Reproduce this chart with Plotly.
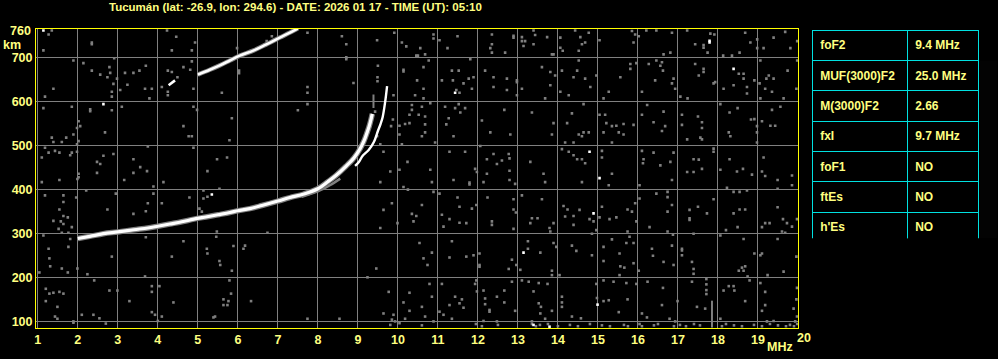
import plotly.graph_objects as go

# ---------------- data ----------------
title_text = "Tucumán (lat: -26.9, lon: 294.6) - DATE: 2026 01 17 - TIME (UT): 05:10"
x_ticks = list(range(1, 20))
y_ticks = [100, 200, 300, 400, 500, 600, 700]

# ordinary (O) F2 trace, MHz / km
o_f = [2.0, 2.3, 2.64, 3.0, 3.4, 3.75, 4.0, 4.3, 4.6, 4.9, 5.2, 5.5, 5.8, 6.0, 6.3, 6.6,
       7.0, 7.3, 7.65, 8.0, 8.25, 8.45, 8.7, 8.9, 9.05, 9.15, 9.22, 9.28, 9.33, 9.36]
o_h = [289, 294, 300, 304, 309, 313, 317, 322, 327, 333, 338, 343, 348, 352, 357, 364,
       374, 382, 390, 402, 418, 432, 453, 472, 492, 510, 527, 543, 560, 572]

# extraordinary (X) trace
x_low_f = [7.6, 8.0, 8.3, 8.56]
x_low_h = [384, 396, 410, 425]
x_f = [8.93, 9.02, 9.12, 9.27, 9.4, 9.5, 9.57, 9.62, 9.68, 9.73]
x_h = [454, 462, 477, 490, 508, 533, 550, 565, 598, 635]

# second hop of F2
hop2a_f = [4.27, 4.43]
hop2a_h = [637, 648]
hop2_f = [5.0, 5.3, 5.55, 5.8, 6.05, 6.4, 6.7, 7.05, 7.4, 7.5]
hop2_h = [661, 672, 682, 693, 704, 716, 729, 745, 761, 766]

# gray echo fragments near foF2 and an interference bar
echo_f = [9.39, 9.39]
echo_h = [585, 616]
bar_f = [17.85, 17.85]
bar_h = [87, 148]

noise_points = [
    (1.35, 761), (1.27, 752), (1.14, 716), (2.35, 734), (2.35, 730), (1.89, 693), (2.14, 687), (2.35, 670),
    (2.56, 661), (2.79, 678), (2.81, 665), (2.74, 655), (2.91, 698), (2.98, 652), (2.89, 640), (2.85, 622),
    (2.85, 611), (3.18, 665), (3.39, 665), (3.54, 670), (3.7, 681), (3.24, 638), (3.06, 626), (3.68, 629),
    (3.85, 629), (3.79, 607), (1.39, 629), (1.18, 611), (1.14, 585), (1.85, 588), (2.31, 582), (2.31, 578),
    (2.85, 580), (3.1, 588), (2.02, 555), (2.06, 544), (1.98, 540), (1.89, 525), (2.02, 510), (1.98, 503),
    (2.68, 530), (1.35, 518), (1.39, 508), (1.6, 508), (1.71, 518), (1.18, 495), (1.27, 484), (1.43, 488),
    (1.54, 484), (1.81, 478), (1.85, 484), (1.98, 486), (1.1, 473), (2.48, 463), (2.56, 458), (2.64, 477),
    (2.89, 481), (2.02, 436), (2.02, 428), (2.48, 438), (3.39, 469), (3.39, 438), (3.56, 451), (3.73, 442),
    (3.75, 498), (4.23, 761), (4.46, 747), (4.35, 716), (4.85, 716), (4.93, 734), (4.85, 691), (4.64, 678),
    (4.81, 672), (4.25, 670), (4.35, 667), (4.49, 655), (4.25, 622), (4.25, 614), (4.1, 633), (4.89, 629),
    (4.89, 588), (4.98, 581), (4.64, 544), (4.77, 521), (4.85, 521), (4.89, 495), (5.6, 620), (5.85, 562),
    (5.79, 512), (5.48, 469), (5.73, 473), (5.24, 442), (6.03, 670), (6.03, 664), (7.74, 756), (7.74, 633),
    (7.74, 620), (7.74, 594), (7.5, 580), (8.6, 748), (8.71, 730), (8.71, 700), (8.71, 696), (8.89, 642),
    (9.48, 739), (9.91, 756), (10.1, 734), (10.21, 725), (10.46, 704), (10.14, 672), (10.14, 668), (9.5, 681),
    (9.49, 655), (9.49, 646), (9.89, 614), (10.48, 648), (10.43, 614), (10.35, 592), (10.35, 581), (10.29, 570),
    (10.18, 549), (10.29, 551), (10.04, 545), (9.875, 559), (9.83, 544), (10.04, 525), (10.1, 503), (9.64, 486),
    (10.24, 463), (10.04, 445), (9.81, 441), (9.48, 521), (9.56, 503), (9.43, 577), (5.98, 721), (6.72, 737),
    (6.85, 748), (6.9, 740),
    (10.89, 752), (10.89, 743), (11.04, 739), (11.24, 721), (11.49, 748), (10.56, 721), (10.68, 707), (10.5, 704),
    (12.35, 752), (12.35, 730), (12.31, 721), (12.35, 711), (12.68, 711), (12.89, 745), (12.89, 749), (13.1, 746),
    (13.1, 737), (13.18, 737), (13.39, 761), (13.43, 751), (13.39, 730), (13.14, 726), (13.73, 746), (13.89, 707),
    (13.85, 707), (14.06, 745), (14.06, 722), (14.12, 715), (14.43, 761), (14.56, 746), (14.6, 730), (14.68, 734),
    (14.52, 715), (14.77, 756), (15.04, 739), (15.85, 760), (15.93, 752), (16.02, 748), (15.89, 734), (16.21, 761),
    (16.46, 761), (16.85, 756), (16.64, 707), (16.81, 711), (17.23, 761), (17.43, 730), (17.64, 722), (17.64, 728),
    (17.74, 711), (17.81, 754), (17.91, 752), (18.13, 704), (18.35, 704), (18.54, 711), (18.68, 756), (18.81, 734),
    (18.98, 741), (18.98, 721), (19.14, 721), (19.39, 745), (19.68, 758), (19.98, 737), (19.81, 721),
    (10.64, 678), (10.77, 693), (10.64, 629), (10.64, 607), (11.1, 648), (11.35, 670), (11.375, 648), (11.46, 626),
    (11.54, 620), (11.64, 641), (11.77, 652), (11.85, 629), (11.89, 655), (11.52, 670), (11.81, 696), (12.18, 670),
    (12.39, 655), (12.39, 633), (12.725, 652), (12.725, 626), (12.975, 648), (12.975, 644), (12.975, 614), (13.1, 629),
    (13.6, 678), (13.81, 667), (13.81, 637), (13.93, 659), (13.68, 607), (14.1, 670), (14.06, 622), (14.27, 614),
    (14.39, 655), (14.48, 670), (14.52, 693), (14.68, 652), (14.81, 633), (14.96, 659), (15.14, 607), (15.27, 622),
    (15.56, 655), (15.81, 685), (15.81, 674), (15.96, 687), (16.27, 685), (16.46, 693), (16.56, 681), (16.6, 689),
    (16.625, 670), (16.43, 648), (16.1, 622), (16.89, 652), (16.85, 641), (16.93, 629), (17.06, 611), (17.24, 607),
    (17.43, 685), (17.64, 674), (17.64, 667), (17.52, 659), (17.89, 641), (17.93, 644), (18.14, 629), (18.39, 637),
    (18.52, 663), (18.64, 663), (18.64, 652), (18.725, 633), (18.725, 618), (18.91, 648), (19.06, 693), (19.04, 641),
    (19.21, 652), (19.27, 659), (19.39, 652), (19.18, 629), (19.35, 622), (19.64, 607), (19.74, 670), (19.98, 693),
    (19.06, 607), (19.96, 629),
    (10.52, 570), (10.68, 566), (10.6, 588), (10.81, 596), (11.18, 588), (11.43, 585), (11.52, 594), (11.68, 585),
    (11.56, 575), (11.27, 562), (11.21, 548), (10.68, 548), (10.68, 530), (10.6, 521), (11.39, 521), (10.93, 507),
    (12.1, 557), (12.31, 530), (12.66, 581), (12.81, 525), (13.35, 575), (13.89, 551), (13.85, 525), (14.23, 551),
    (14.35, 573), (14.64, 594), (14.52, 525), (14.6, 521), (14.64, 530), (14.77, 530), (14.39, 507), (14.18, 507),
    (15.04, 570), (15.18, 570), (15.21, 551), (15.35, 544), (15.46, 545), (15.64, 549), (15.89, 547), (15.14, 530),
    (15.52, 530), (15.64, 525), (15.35, 507), (16.1, 570), (16.23, 592), (16.39, 553), (16.64, 577), (16.68, 544),
    (16.6, 533), (17.1, 570), (17.1, 547), (17.23, 514), (17.5, 566), (17.6, 553), (17.6, 540), (17.56, 518),
    (17.6, 514), (18.06, 594), (18.29, 575), (18.49, 585), (18.825, 559), (18.91, 560), (18.975, 544), (18.975, 530),
    (19.1, 555), (19.31, 545), (19.43, 545), (19.35, 581), (19.56, 588), (18.27, 530), (18.31, 521), (18.975, 507),
    (19.14, 473),
    (10.81, 445), (11.29, 486), (11.68, 486), (12.06, 499), (12.225, 469), (12.39, 481), (12.475, 458), (12.6, 466),
    (12.77, 481), (12.79, 471), (12.79, 443), (11.93, 447), (11.975, 440), (12.225, 436), (13.31, 463), (13.64, 436),
    (14.1, 492), (14.27, 486), (14.39, 478), (14.48, 469), (14.6, 469), (14.68, 460), (15.1, 488), (15.1, 473),
    (15.35, 436), (16.1, 488), (16.14, 469), (16.125, 460), (16.39, 484), (16.56, 455), (16.81, 463), (16.89, 484),
    (17.23, 440), (17.39, 469), (17.52, 468), (17.39, 440), (17.6, 447), (17.89, 493), (17.89, 486), (18.06, 445),
    (18.29, 469), (18.475, 441), (18.625, 447), (18.85, 434), (19.1, 441), (19.18, 431), (19.85, 432),
    (1.1, 417), (1.54, 422), (1.99, 424), (2.21, 398), (3.16, 422), (2.95, 391), (3.89, 407), (4.14, 417),
    (3.89, 391), (1.18, 387), (1.64, 387), (1.64, 372), (1.96, 382), (1.54, 355), (1.64, 340), (1.75, 337),
    (1.39, 329), (1.575, 328), (1.64, 322), (1.85, 315), (1.52, 311), (1.6, 302), (1.765, 302), (1.14, 296),
    (1.81, 288), (2.74, 355), (3.39, 345), (3.75, 369), (3.7, 351), (4.1, 369), (3.7, 292), (4.64, 283),
    (5.14, 398), (5.14, 380), (5.24, 384), (5.54, 402), (4.79, 382), (5.04, 357), (5.1, 350), (5.475, 305),
    (5.46, 293), (5.89, 272), (6.18, 273), (6.14, 266), (5.225, 266), (5.24, 255), (5.54, 238), (5.56, 229),
    (5.85, 216), (5.79, 194), (5.83, 164), (5.64, 151), (5.765, 147), (5.64, 138), (5.74, 138), (6.33, 147),
    (6.74, 302), (1.27, 266), (1.765, 270), (1.29, 244), (1.31, 226), (1.6, 221), (1.04, 212), (1.75, 212),
    (1.99, 221), (2.24, 208), (2.85, 248), (2.41, 194), (2.79, 171), (2.99, 171), (1.2, 175), (1.29, 164),
    (1.39, 166), (1.54, 168), (1.64, 164), (1.2, 147), (1.49, 134), (1.43, 112), (1.49, 107), (1.89, 101),
    (2.1, 116), (2.39, 116), (2.54, 108), (3.29, 147), (3.68, 203), (3.85, 181), (3.85, 168), (4.04, 181),
    (4.39, 144), (3.85, 122), (3.93, 116), (4.1, 112), (4.0, 102), (4.35, 248), (5.39, 110), (5.43, 112),
    (7.74, 107), (8.54, 107), (9.64, 354), (9.56, 313), (9.85, 369), (9.99, 324), (10.14, 406), (10.25, 400),
    (10.35, 345), (10.46, 340), (10.39, 328), (9.56, 417), (9.46, 221), (9.24, 201), (9.77, 168), (10.29, 166),
    (10.14, 144), (10.29, 125), (9.64, 119), (9.89, 116), (9.85, 105), (9.93, 101), (10.18, 107), (9.81, 93),
    (10.04, 97), (1.89, 98), (2.7, 96),
    (10.85, 417), (11.39, 422), (11.79, 412), (11.79, 416), (12.14, 417), (12.79, 422), (12.93, 413), (13.68, 417),
    (14.6, 417), (15.27, 410), (16.04, 410), (16.85, 422), (19.49, 422), (19.49, 402), (19.85, 410), (18.225, 404),
    (18.725, 398), (10.89, 395), (11.04, 391), (10.6, 365), (11.1, 343), (11.29, 333), (11.54, 325), (11.71, 324),
    (11.14, 316), (11.54, 361), (11.85, 357), (11.96, 365), (11.49, 382), (12.24, 382), (12.35, 328), (12.35, 320),
    (12.89, 378), (12.89, 355), (12.95, 348), (12.89, 311), (13.1, 387), (13.6, 378), (13.35, 335), (13.49, 335),
    (13.31, 324), (13.79, 313), (13.81, 305), (13.89, 324), (14.14, 363), (14.24, 355), (14.39, 340), (14.18, 339),
    (14.39, 320), (14.54, 354), (14.79, 333), (14.89, 328), (15.1, 361), (15.04, 337), (15.29, 333), (15.46, 337),
    (14.96, 308), (14.85, 300), (15.74, 355), (15.85, 350), (15.93, 369), (16.04, 380), (15.96, 328), (15.74, 305),
    (16.29, 315), (16.46, 391), (16.74, 395), (16.74, 383), (16.85, 365), (16.74, 350), (16.74, 305), (16.875, 298),
    (17.29, 354), (17.29, 335), (17.29, 331), (17.5, 361), (17.89, 378), (17.725, 346), (17.39, 300), (18.39, 395),
    (18.54, 395), (18.39, 346), (18.54, 355), (18.68, 355), (18.49, 315), (18.2, 308), (19.1, 315), (19.18, 324),
    (19.29, 324), (19.49, 360), (19.625, 333), (19.725, 324), (19.85, 316), (19.975, 333), (19.6, 305), (19.68, 302),
    (10.54, 279), (10.64, 244), (10.74, 229), (10.85, 257), (11.35, 283), (11.29, 246), (11.71, 248), (11.89, 251),
    (12.04, 255), (12.04, 229), (12.04, 225), (12.85, 241), (12.96, 229), (12.77, 220), (13.06, 218), (13.25, 266),
    (13.25, 283), (13.56, 257), (13.89, 279), (13.96, 270), (13.85, 216), (13.85, 206), (14.04, 206), (14.35, 273),
    (14.46, 261), (14.85, 251), (15.14, 270), (15.14, 238), (15.35, 287), (15.54, 255), (15.56, 226), (15.66, 223),
    (15.54, 206), (15.71, 279), (15.79, 293), (15.89, 279), (15.89, 233), (16.02, 216), (16.35, 266), (16.375, 250),
    (16.64, 236), (16.89, 229), (16.85, 273), (17.1, 266), (17.1, 262), (17.1, 251), (17.35, 236), (17.39, 220),
    (17.39, 209), (18.06, 296), (18.64, 288), (18.6, 223), (18.68, 226), (18.52, 216), (18.64, 216), (18.74, 203),
    (18.91, 255), (19.06, 251), (19.1, 255), (19.24, 206), (19.64, 214), (19.96, 248), (19.49, 288),
    (10.79, 186), (11.1, 186), (10.85, 157), (10.6, 134), (10.68, 112), (11.04, 123), (11.14, 116), (10.89, 101),
    (11.29, 138), (11.43, 157), (11.6, 151), (11.54, 142), (11.64, 132), (11.35, 107), (11.96, 194), (11.93, 186),
    (11.975, 169), (12.14, 171), (12.18, 153), (12.18, 140), (12.29, 123), (12.29, 127), (12.475, 157), (12.66, 171),
    (12.66, 144), (12.475, 101), (12.14, 102), (12.85, 191), (12.93, 125), (13.1, 194), (13.27, 191), (13.52, 188),
    (13.74, 186), (13.39, 169), (13.52, 142), (13.575, 134), (13.85, 125), (13.56, 119), (13.68, 107), (13.35, 101),
    (14.1, 157), (14.1, 144), (14.1, 134), (14.35, 112), (14.575, 108), (14.975, 154), (14.96, 186), (15.14, 194),
    (15.39, 191), (15.71, 188), (15.96, 186), (15.14, 147), (15.27, 149), (15.74, 151), (15.52, 122), (16.1, 119),
    (16.225, 110), (16.24, 191), (16.625, 177), (16.6, 138), (16.79, 107), (16.99, 147), (16.93, 101), (17.475, 134),
    (17.35, 191), (17.71, 197), (17.71, 185), (17.71, 172), (17.71, 163), (17.68, 130), (18.06, 107), (18.14, 171),
    (18.27, 181), (18.39, 181), (18.41, 171), (18.79, 194), (18.68, 147), (19.06, 188), (19.18, 168), (19.18, 138),
    (19.1, 125), (19.225, 101), (19.39, 102), (19.975, 177), (19.96, 151), (19.89, 130), (19.93, 101), (19.975, 112),
    (10.6, 92), (11.95, 95), (12.1, 90), (12.5, 93), (13.35, 95), (13.45, 90), (13.55, 93), (13.75, 95),
    (14.0, 90), (14.3, 93), (14.5, 90), (14.8, 95), (15.1, 92), (15.3, 90), (15.65, 93), (15.75, 90),
    (16.04, 95), (16.1, 90), (16.4, 92), (16.5, 95), (16.9, 90), (17.05, 93), (17.2, 90), (17.4, 95),
    (17.55, 92), (18.1, 90), (18.2, 95), (18.4, 92), (18.6, 90), (18.9, 93), (19.1, 90), (19.3, 95),
    (19.5, 92), (19.7, 90), (19.8, 93), (19.9, 90), (19.98, 95),
]
white_points = [
    (1.14, 761), (2.64, 594), (11.43, 620), (17.79, 734), (17.79, 738), (18.39, 674), (14.79, 486),
    (14.89, 346), (13.14, 257), (14.99, 139), (13.39, 93), (13.79, 89), (5.35, 389), (15.04, 426),
]

table_params = ["foF2", "MUF(3000)F2", "M(3000)F2", "fxI", "foF1", "ftEs", "h'Es"]
table_values = ["9.4 MHz", "25.0 MHz", "2.66", "9.7 MHz", "NO", "NO", "NO"]

# ---------------- styling ----------------
TXT = "#ffff80"
BORDER = "#ffff00"
GRID = "#808080"
NOISE = "#7f7f7f"
CYAN = "#00e0e0"
FONT = "Liberation Sans, Arial, sans-serif"

W, H = 998, 359
ML, MR, MT, MB = 35, 19, 29, 26
PW = W - ML - MR
PH = H - MT - MB
x_dom_end = (798 - ML) / PW
tab_x0 = (812 - ML) / PW
tab_y1 = (H - MB - 30.3) / PH
tab_y0 = (H - MB - 242.7) / PH

fig = go.Figure()

nf = [p[0] for p in noise_points]
nh = [p[1] for p in noise_points]
fig.add_trace(go.Scatter(x=nf, y=nh, mode="markers",
                         marker=dict(symbol="square", size=2.6, color=NOISE, line=dict(width=0)),
                         hoverinfo="skip", showlegend=False))
fig.add_trace(go.Scatter(x=bar_f, y=bar_h, mode="lines", line=dict(color=NOISE, width=2),
                         hoverinfo="skip", showlegend=False))
fig.add_trace(go.Scatter(x=echo_f, y=echo_h, mode="lines", line=dict(color=NOISE, width=2),
                         hoverinfo="skip", showlegend=False))

# gray fringes
for fx, hy, w in [(o_f, o_h, 5.5), (hop2_f, hop2_h, 4.5), (x_low_f, x_low_h, 2.5)]:
    fig.add_trace(go.Scatter(x=fx, y=hy, mode="lines", line=dict(color=NOISE, width=w, shape="spline"),
                             hoverinfo="skip", showlegend=False))

# white cores
for fx, hy, w in [(o_f, o_h, 3.2), (hop2_f, hop2_h, 2.6), (hop2a_f, hop2a_h, 2.6), (x_f, x_h, 2.4)]:
    fig.add_trace(go.Scatter(x=fx, y=hy, mode="lines", line=dict(color="#ffffff", width=w, shape="spline"),
                             hoverinfo="skip", showlegend=False))

wf = [p[0] for p in white_points]
wh = [p[1] for p in white_points]
fig.add_trace(go.Scatter(x=wf, y=wh, mode="markers",
                         marker=dict(symbol="square", size=2.6, color="#ffffff", line=dict(width=0)),
                         hoverinfo="skip", showlegend=False))

cell_font = dict(family=FONT, size=12, color=TXT, weight="bold")
fig.add_trace(go.Table(
    domain=dict(x=[tab_x0, 1.0], y=[tab_y0, tab_y1]),
    columnwidth=[95, 71],
    header=dict(values=[f"<b>{table_params[0]}</b>", f"<b>{table_values[0]}</b>"],
                fill_color="black", line=dict(color=CYAN, width=1), font=cell_font,
                align="left", height=30.33),
    cells=dict(values=[[f"<b>{p}</b>" for p in table_params[1:]],
                       [f"<b>{v}</b>" for v in table_values[1:]]],
               fill_color="black", line=dict(color=CYAN, width=1), font=cell_font,
               align="left", height=30.33),
))

tick_font = dict(family=FONT, size=12.5, color=TXT, weight="bold")
fig.update_layout(
    width=W, height=H,
    margin=dict(l=ML, r=MR, t=MT, b=MB, pad=0),
    paper_bgcolor="black", plot_bgcolor="black",
    showlegend=False,
    xaxis=dict(domain=[0, x_dom_end], range=[0.955, 20.005], tickvals=x_ticks,
               ticktext=[str(v) for v in x_ticks], tickfont=tick_font, ticks="",
               showgrid=True, gridcolor=GRID, gridwidth=1, zeroline=False,
               showline=True, linecolor=BORDER, linewidth=1, mirror=True, fixedrange=True),
    yaxis=dict(range=[86, 764.5], tickvals=y_ticks, ticktext=[str(v) for v in y_ticks],
               tickfont=tick_font, ticks="", showgrid=True, gridcolor=GRID, gridwidth=1,
               zeroline=False, showline=True, linecolor=BORDER, linewidth=1, mirror=True,
               fixedrange=True),
    annotations=[
        dict(text=f"<b>{title_text}</b>", xref="paper", yref="paper", x=(295 - ML) / PW,
             y=1 + 22 / PH, xanchor="center", yanchor="middle", showarrow=False,
             font=dict(family=FONT, size=11.5, color=TXT)),
        dict(text="<b>760</b>", xref="paper", yref="y", x=0, y=760, xanchor="right",
             yanchor="middle", xshift=-3, showarrow=False, font=tick_font),
        dict(text="<b>km</b>", xref="paper", yref="y", x=0, y=729, xanchor="right",
             yanchor="middle", xshift=-13, showarrow=False, font=tick_font),
        dict(text="<b>MHz</b>", xref="x", yref="paper", x=19.54, y=0, xanchor="center",
             yanchor="middle", yshift=-19, showarrow=False, font=tick_font),
        dict(text="<b>20</b>", xref="x", yref="paper", x=20, y=0, xanchor="center",
             yanchor="middle", xshift=6, yshift=-10, showarrow=False, font=tick_font),
    ],
)

fig.write_html("out.html")
